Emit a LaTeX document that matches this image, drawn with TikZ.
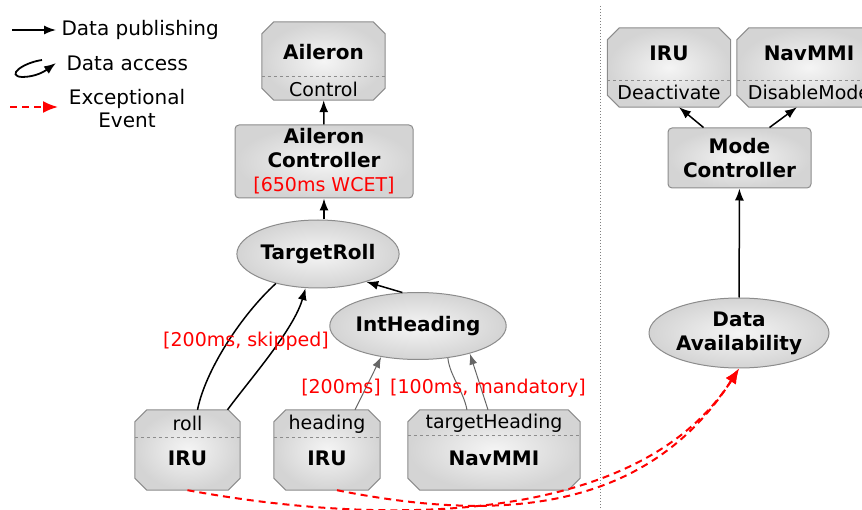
\documentclass[tikz,border=0pt]{standalone}
\usepackage{fontspec}
\setmainfont{DejaVu Sans}
\usetikzlibrary{shapes.geometric,arrows.meta}
\newcommand{\nodetitle}{\fontsize{20}{24}\selectfont\bfseries}
\newcommand{\nodesub}{\fontsize{19}{23}\selectfont\mdseries}
% octagon outline round a named (invisible) node
\newcommand{\octframe}[1]{\path[port outline] ([xshift=12pt]#1.north west) -- ([xshift=-12pt]#1.north east) -- ([yshift=-12pt]#1.north east) -- ([yshift=12pt]#1.south east) -- ([xshift=-12pt]#1.south east) -- ([xshift=12pt]#1.south west) -- ([yshift=12pt]#1.south west) -- ([yshift=-12pt]#1.north west) -- cycle;}
\begin{document}
\begin{tikzpicture}[x=1pt,y=-1pt]
	% Set styles
	\tikzset{
		port box/.style={rectangle, inner sep=0pt},
		port outline/.style={draw=black!45, line width=1pt, inner color=black!4, outer color=black!17},
		task box/.style={draw=black!45, line width=1pt, rectangle, rounded corners=4pt, inner sep=0pt, inner color=black!4, outer color=black!17, align=center, font=\nodetitle},
		data ellipse/.style={draw=black!45, line width=1pt, ellipse, inner sep=0pt, inner color=black!4, outer color=black!17, align=center, font=\nodetitle},
		divider/.style={draw=black!45, dashed, line width=0.8pt},
		publish/.style={-{Latex[length=12pt,width=9pt]}, line width=1.5pt},
		access/.style={line width=1.5pt},
		thin access/.style={line width=1pt, black!60},
		exceptional/.style={-{Latex[length=15pt,width=12pt]}, red, line width=2pt, dash pattern=on 7pt off 5pt},
		red label/.style={text=red, font=\nodesub},
		legend text/.style={font=\fontsize{20}{23}\selectfont, align=center}
	}
	\clip (0,0) rectangle (862,510);

	% Legend
	\coordinate (lgA1) at (12,30);
	\coordinate (lgA2) at (56,30);
	\draw[publish] (lgA1) -- (lgA2);
	\node[legend text, anchor=west] (lgAtext) at (58,30) {Data publishing};
	\coordinate (lgB1) at (42,60);
	\coordinate (lgB2) at (22,77);
	\coordinate (lgB3) at (56,63);
	\draw[publish, line width=1.8pt] (lgB1) .. controls +(-20,3) and +(-16,-1) .. (lgB2) .. controls +(14,0) and +(-11,8) .. (lgB3);
	\node[legend text, anchor=west] (lgBtext) at (63,63) {Data access};
	\coordinate (lgC1) at (10,107);
	\coordinate (lgC2) at (58,107);
	\draw[exceptional] (lgC1) -- (lgC2);
	\node[legend text] (lgCtext) at (127,109) {Exceptional\\Event};

	% Separator
	\draw[black!50, dotted, line width=1pt] (600,6) -- (600,510);

	% Aileron side
	\node[port box, minimum width=123pt, minimum height=78pt] (ail) at (323.5,61) {};
	\octframe{ail}
	\draw[divider] ([yshift=-15pt]ail.west) -- ([yshift=-15pt]ail.east);
	\node[font=\nodetitle] (ailT) at (323.5,52) {Aileron};
	\node[font=\nodesub] (ailB) at (323.5,89) {Control};

	\node[task box, minimum width=178pt, minimum height=73pt] (ailctl) at (324,161.5) {Aileron\\Controller\\{\nodesub\color{red}[650ms WCET]}};

	\node[data ellipse, minimum width=130pt, minimum height=68pt] (troll) at (318,254) {TargetRoll};
	\node[data ellipse, minimum width=140pt, minimum height=67pt] (inth) at (418,326) {IntHeading};

	% Sources
	\node[port box, minimum width=105pt, minimum height=80pt] (rollIRU) at (187.5,450) {};
	\octframe{rollIRU}
	\draw[divider] ([yshift=13pt]rollIRU.west) -- ([yshift=13pt]rollIRU.east);
	\node[font=\nodesub] (rollT) at (187.5,423) {roll};
	\node[font=\nodetitle] (rollB) at (187.5,458) {IRU};

	\node[port box, minimum width=106pt, minimum height=80pt] (headIRU) at (327,450) {};
	\octframe{headIRU}
	\draw[divider] ([yshift=13pt]headIRU.west) -- ([yshift=13pt]headIRU.east);
	\node[font=\nodesub] (headT) at (327,424) {heading};
	\node[font=\nodetitle] (headB) at (327,458) {IRU};

	\node[port box, minimum width=172pt, minimum height=80pt] (navmmi) at (494,450) {};
	\octframe{navmmi}
	\draw[divider] ([yshift=15pt]navmmi.west) -- ([yshift=15pt]navmmi.east);
	\node[font=\nodesub] (navT) at (494,423) {targetHeading};
	\node[font=\nodetitle] (navB) at (494,458) {NavMMI};

	% Mode side
	\node[port box, minimum width=123pt, minimum height=79pt] (rIRU) at (669,67.5) {};
	\octframe{rIRU}
	\draw[divider] ([yshift=-13pt]rIRU.west) -- ([yshift=-13pt]rIRU.east);
	\node[font=\nodetitle] (rIRUT) at (669,53) {IRU};
	\node[font=\nodesub] (rIRUB) at (669,92) {Deactivate};

	\node[port box, minimum width=144pt, minimum height=79pt] (rNav) at (809,67.5) {};
	\octframe{rNav}
	\draw[divider] ([yshift=-13pt]rNav.west) -- ([yshift=-13pt]rNav.east);
	\node[font=\nodetitle] (rNavT) at (809,53) {NavMMI};
	\node[font=\nodesub] (rNavB) at (809,92) {DisableMode};

	\node[task box, minimum width=143pt, minimum height=60pt] (modectl) at (739.5,158) {Mode\\Controller};
	\node[data ellipse, minimum width=180pt, minimum height=70pt] (avail) at (739,333) {Data\\Availability};

	% Publishing
	\draw[publish] (ailctl) -- (ail);
	\draw[publish] (troll.north -| ailctl) -- (ailctl.south);
	\draw[publish] (inth.115) -- (troll.-30);
	\draw[publish] ([xshift=-36pt]modectl.north) -- ([xshift=10pt]rIRU.south);
	\draw[publish] ([xshift=30pt]modectl.north) -- ([xshift=-12pt]rNav.south);
	\draw[publish] (avail) -- (modectl);

	% Data access
	\draw[access] ([xshift=10pt]rollIRU.north) .. controls +(8,-40) and +(-34,31) .. (troll.215);
	\draw[access, publish] ([xshift=40pt]rollIRU.north) .. controls +(22,-30) and +(-12,42) .. (troll.250);
	\draw[thin access, -{Latex[length=11pt,width=8pt]}] ([xshift=28pt]headIRU.north) -- (inth.220);
	\draw[thin access] ([xshift=-27pt]navmmi.north) .. controls +(-4,-20) and +(2,18) .. (inth.-47);
	\draw[thin access, -{Latex[length=11pt,width=8pt]}] ([xshift=-6pt]navmmi.north) -- (inth.-28);

	% Labels
	\node[red label] (skipL) at (246,341) {[200ms, skipped]};
	\node[red label] (headL) at (341,388) {[200ms]};
	\node[red label] (mandL) at (488,388) {[100ms, mandatory]};

	% Exceptional events
	\draw[exceptional] (rollIRU.south) .. controls +(218,40) and +(-96,150) .. (avail.south);
	\draw[exceptional] ([xshift=10pt]headIRU.south) .. controls +(150,30) and +(-96,150) .. (avail.south);
\end{tikzpicture}
\end{document}
